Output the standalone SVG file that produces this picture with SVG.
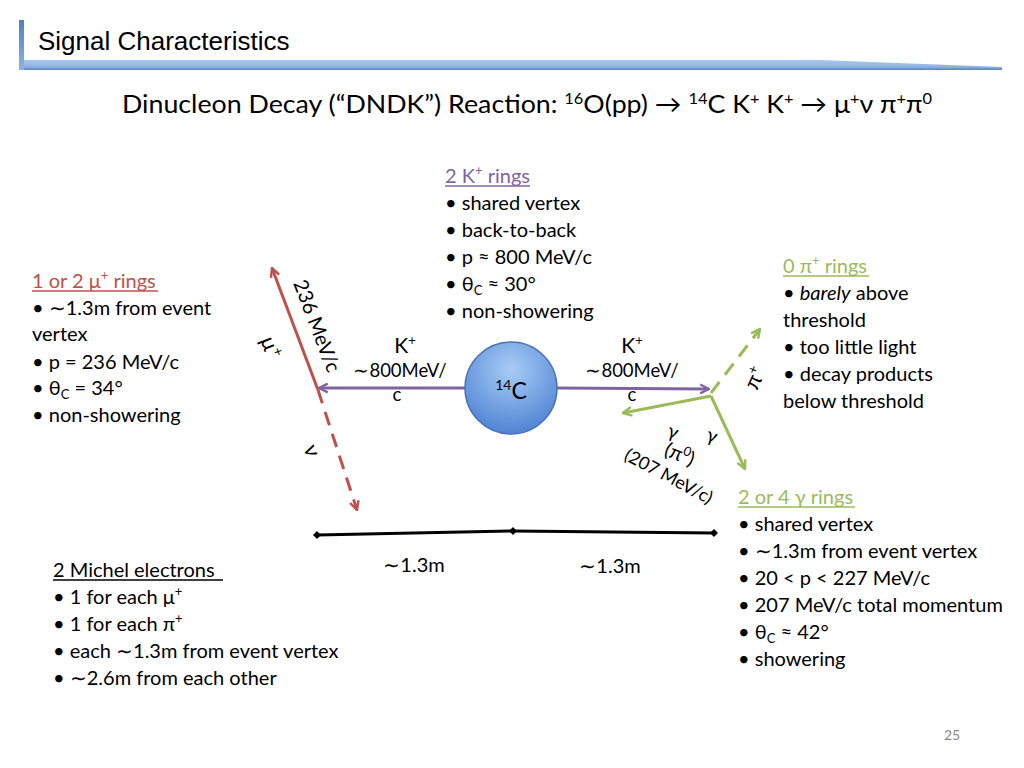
<svg xmlns="http://www.w3.org/2000/svg" width="1024" height="768" viewBox="0 0 1024 768">
<defs>
<style>
text{font-family:Lato,"Liberation Sans",sans-serif;font-size:20px;fill:#000}
.red{fill:#c0504d}.pur{fill:#8064a2}.grn{fill:#9bbb59}
.lr{stroke:#c0504d;stroke-width:3;fill:none}
.lp{stroke:#8064a2;stroke-width:3;fill:none}
.lg{stroke:#9bbb59;stroke-width:3;fill:none}
.kl{font-size:18.5px}
</style>
<linearGradient id="bar" x1="0" y1="0" x2="0" y2="1">
<stop offset="0" stop-color="#a9c8f0"/><stop offset="0.7" stop-color="#8db3e2"/><stop offset="1" stop-color="#5b7fb0"/>
</linearGradient>
<linearGradient id="vbar" x1="0" y1="0" x2="0" y2="1">
<stop offset="0" stop-color="#4f81bd"/><stop offset="1" stop-color="#8db3e2"/>
</linearGradient>
<radialGradient id="ball" cx="0.5" cy="0.3" r="0.75">
<stop offset="0" stop-color="#a8ccf7"/><stop offset="1" stop-color="#4a7fd0"/>
</radialGradient>
<marker id="ar" viewBox="0 0 10 10" refX="9" refY="5" markerWidth="11" markerHeight="11" markerUnits="userSpaceOnUse" orient="auto"><path d="M1,1 L9,5 L1,9" fill="none" stroke="#c0504d" stroke-width="2.2"/></marker>
<marker id="ap" viewBox="0 0 10 10" refX="9" refY="5" markerWidth="11" markerHeight="11" markerUnits="userSpaceOnUse" orient="auto"><path d="M1,1 L9,5 L1,9" fill="none" stroke="#8064a2" stroke-width="2.2"/></marker>
<marker id="ag" viewBox="0 0 10 10" refX="9" refY="5" markerWidth="11" markerHeight="11" markerUnits="userSpaceOnUse" orient="auto"><path d="M1,1 L9,5 L1,9" fill="none" stroke="#9bbb59" stroke-width="2.2"/></marker>
<marker id="dm" viewBox="0 0 10 10" refX="5" refY="5" markerWidth="8" markerHeight="14" markerUnits="userSpaceOnUse" orient="auto"><path d="M5,0 L10,5 L5,10 L0,5 Z" fill="#000"/></marker>
</defs>
<rect width="1024" height="768" fill="#fff"/>

<g id="title">
<polygon points="19,60 820,60 1002,67 1002,70 19,70" fill="url(#bar)"/>
<rect x="19" y="20" width="5" height="50" fill="url(#vbar)"/>
<text x="38" y="50" style="font-family:'Liberation Sans',sans-serif;font-size:26px">Signal Characteristics</text>
</g>

<g id="subtitle">
<text x="122" y="113" style="font-size:24.5px" textLength="810" lengthAdjust="spacingAndGlyphs">Dinucleon Decay (“DNDK”) Reaction: <tspan font-size="15" dy="-9">16</tspan><tspan dy="9">O(pp) → </tspan><tspan font-size="15" dy="-9">14</tspan><tspan dy="9">C K</tspan><tspan font-size="15" dy="-9">+</tspan><tspan dy="9"> K</tspan><tspan font-size="15" dy="-9">+</tspan><tspan dy="9"> → μ</tspan><tspan font-size="15" dy="-9">+</tspan><tspan dy="9">ν π</tspan><tspan font-size="15" dy="-9">+</tspan><tspan dy="9">π</tspan><tspan font-size="15" dy="-9">0</tspan></text>
</g>

<g id="connectors">
<line class="lp" x1="465" y1="388" x2="319" y2="388" marker-end="url(#ap)"/>
<line class="lp" x1="557" y1="388" x2="709" y2="389" marker-end="url(#ap)"/>
<line class="lr" x1="318" y1="390" x2="272" y2="268" marker-end="url(#ar)"/>
<line class="lr" x1="318" y1="390" x2="357" y2="510" stroke-dasharray="14,9" marker-end="url(#ar)"/>
<line class="lg" x1="711" y1="393" x2="760" y2="329" stroke-dasharray="14,9" marker-end="url(#ag)"/>
<line class="lg" x1="711" y1="396" x2="623" y2="413" marker-end="url(#ag)"/>
<line class="lg" x1="711" y1="396" x2="745" y2="469" marker-end="url(#ag)"/>
<polyline points="317,535 513,531 714,533" fill="none" stroke="#000" stroke-width="3" marker-start="url(#dm)" marker-mid="url(#dm)" marker-end="url(#dm)"/>
</g>

<g id="nucleus">
<circle cx="511" cy="388" r="46" fill="url(#ball)" stroke="#4a72b8" stroke-width="1.5"/>
<text x="511" y="399" text-anchor="middle" style="font-size:23px"><tspan font-size="14" dy="-9">14</tspan><tspan dy="9">C</tspan></text>
</g>

<g id="labels">
<text x="405" y="353" text-anchor="middle" style="font-size:21px">K<tspan font-size="13" dy="-8">+</tspan></text>
<text x="400" y="377" text-anchor="middle" class="kl">∼800MeV/</text>
<text x="397" y="401" text-anchor="middle" class="kl">c</text>
<text x="632" y="353" text-anchor="middle" style="font-size:21px">K<tspan font-size="13" dy="-8">+</tspan></text>
<text x="632" y="377" text-anchor="middle" class="kl">∼800MeV/</text>
<text x="632" y="401" text-anchor="middle" class="kl">c</text>
<text transform="translate(293,283) rotate(69)">236 MeV/c</text>
<text transform="translate(260,340) rotate(69)" style="font-size:22px">μ<tspan font-size="14" dy="-8">+</tspan></text>
<text transform="translate(303,448) rotate(69)" style="font-size:22px">ν</text>
<text transform="translate(757,391) rotate(-65)" style="font-size:22px">π<tspan font-size="14" dy="-8">+</tspan></text>
<text transform="translate(666,436) rotate(20)" style="font-size:19px">γ</text>
<text transform="translate(705,440) rotate(20)" style="font-size:19px">γ</text>
<text transform="translate(663,455) rotate(22)" style="font-size:20px">(π<tspan font-size="13" dy="-8">0</tspan><tspan dy="8">)</tspan></text>
<text transform="translate(623,459) rotate(28)" style="font-size:18px">(207 MeV/c)</text>
<text x="414" y="572" text-anchor="middle">∼1.3m</text>
<text x="610" y="573" text-anchor="middle">∼1.3m</text>
</g>

<g id="mu-rings">
<text x="32" y="288" class="red">1 or 2 μ<tspan font-size="13" dy="-8">+</tspan><tspan dy="8"> rings</tspan></text>
<line x1="32" y1="291" x2="158" y2="291" stroke="#c0504d" stroke-width="1.3"/>
<text x="32" y="315">• ∼1.3m from event</text>
<text x="32" y="341">vertex</text>
<text x="32" y="369">• p = 236 MeV/c</text>
<text x="32" y="395">• θ<tspan font-size="13" dy="4">C</tspan><tspan dy="-4"> = 34°</tspan></text>
<text x="32" y="422">• non-showering</text>
</g>

<g id="k-rings">
<text x="445" y="183" class="pur">2 K<tspan font-size="13" dy="-8">+</tspan><tspan dy="8"> rings</tspan></text>
<line x1="445" y1="186" x2="530" y2="186" stroke="#8064a2" stroke-width="1.3"/>
<text x="445" y="210">• shared vertex</text>
<text x="445" y="237">• back-to-back</text>
<text x="445" y="264">• p ≈ 800 MeV/c</text>
<text x="445" y="291">• θ<tspan font-size="13" dy="4">C</tspan><tspan dy="-4"> ≈ 30°</tspan></text>
<text x="445" y="318">• non-showering</text>
</g>

<g id="pi-rings">
<text x="783" y="273" class="grn">0 π<tspan font-size="13" dy="-8">+</tspan><tspan dy="8"> rings</tspan></text>
<line x1="783" y1="276" x2="869" y2="276" stroke="#9bbb59" stroke-width="1.3"/>
<text x="783" y="300">• <tspan font-style="italic">barely</tspan> above</text>
<text x="783" y="327">threshold</text>
<text x="783" y="354">• too little light</text>
<text x="783" y="381">• decay products</text>
<text x="783" y="408">below threshold</text>
</g>

<g id="gamma-rings">
<text x="738" y="504" class="grn">2 or 4 γ rings</text>
<line x1="738" y1="507" x2="855" y2="507" stroke="#9bbb59" stroke-width="1.3"/>
<text x="738" y="531">• shared vertex</text>
<text x="738" y="558">• ∼1.3m from event vertex</text>
<text x="738" y="585">• 20 &lt; p &lt; 227 MeV/c</text>
<text x="738" y="612">• 207 MeV/c total momentum</text>
<text x="738" y="639">• θ<tspan font-size="13" dy="4">C</tspan><tspan dy="-4"> ≈ 42°</tspan></text>
<text x="738" y="666">• showering</text>
</g>

<g id="michel">
<text x="53" y="577">2 Michel electrons</text>
<line x1="53" y1="580" x2="223" y2="580" stroke="#000" stroke-width="1.3"/>
<text x="53" y="604">• 1 for each μ<tspan font-size="13" dy="-8">+</tspan></text>
<text x="53" y="631">• 1 for each π<tspan font-size="13" dy="-8">+</tspan></text>
<text x="53" y="658">• each ∼1.3m from event vertex</text>
<text x="53" y="685">• ∼2.6m from each other</text>
</g>

<text x="952" y="740" text-anchor="middle" style="font-size:14px;fill:#888">25</text>
</svg>
